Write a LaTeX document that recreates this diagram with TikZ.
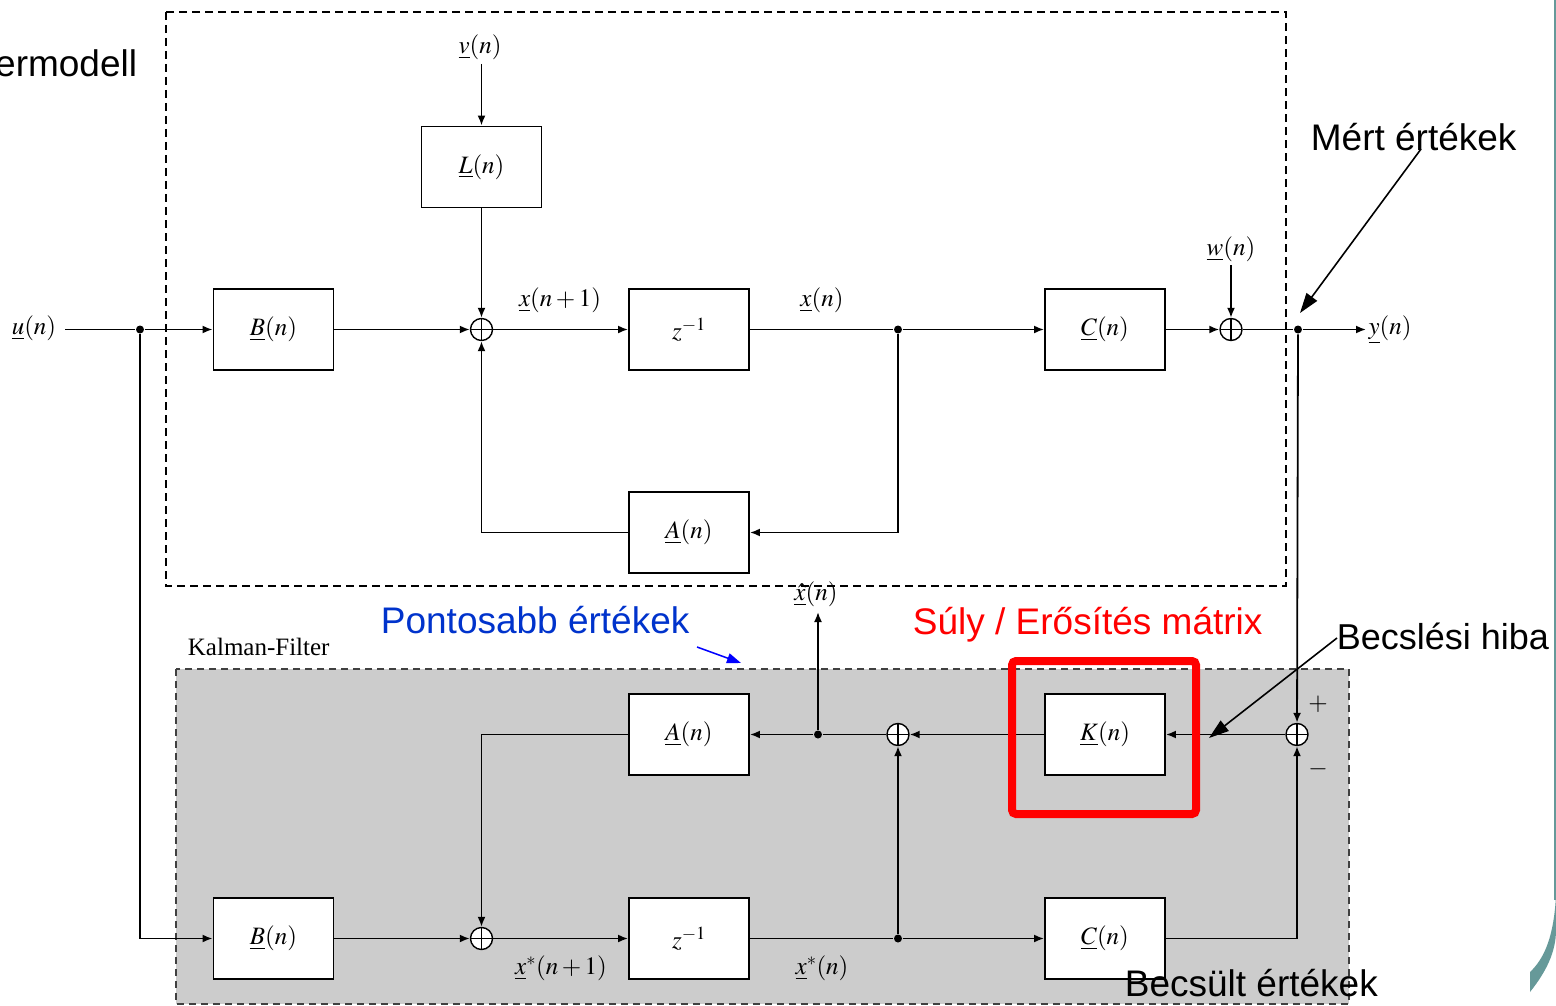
\documentclass[tikz,border=0pt]{standalone}
\usepackage{mathptmx}
\usepackage{fontspec}
\newfontfamily\arial{Liberation Sans}
\newfontfamily\tnr{Liberation Serif}
\usetikzlibrary{arrows.meta}
\definecolor{tealedge}{RGB}{102,153,153}
\definecolor{kgray}{RGB}{204,204,204}
\definecolor{pblue}{RGB}{0,51,204}
\begin{document}
\begin{tikzpicture}[x=1pt,y=-1pt,line width=1.8pt,
  >={Latex[length=10pt,width=8pt]},
  blk/.style={draw,fill=white,line width=1.9pt,minimum width=120pt,minimum height=81pt,inner sep=0pt,font=\fontsize{25}{30}\selectfont},
  sumn/.style={circle,draw,fill=white,line width=1.4pt,minimum size=22pt,inner sep=0pt,
    path picture={\draw[line width=1.3pt] (path picture bounding box.north) -- (path picture bounding box.south)
      (path picture bounding box.west) -- (path picture bounding box.east);}},
  dotn/.style={circle,fill=black,minimum size=8pt,inner sep=0pt},
  lbl/.style={inner sep=0pt,font=\fontsize{25}{30}\selectfont},
  ann/.style={inner sep=0pt,font=\arial\fontsize{37}{44}\selectfont},
  annarrow/.style={line width=1.6pt,-{Triangle[length=20pt,width=13pt]}}
]
\useasboundingbox (0,0) rectangle (1556,1006);
\clip (0,0) rectangle (1556,1006);
\fill[white] (0,0) rectangle (1556,1006);

% frames
\fill[kgray] (176,669) rectangle (1349,1004);
\draw[black!75,line width=1.6pt,dash pattern=on 7pt off 5pt] (176,669) rectangle (1349,1004);
\draw[line width=2.2pt,dash pattern=on 8pt off 5pt] (166,12) rectangle (1286,586);

% right-edge decoration
\draw[tealedge,line width=2pt] (1554.5,0) -- (1554.5,900);
\fill[tealedge] (1556,895) .. controls (1554,935) and (1545,958) .. (1530,972)
  -- (1530,992) .. controls (1546,972) and (1556,952) .. (1556,930) -- cycle;

% blocks (system model)
\node[blk] (L) at (481.5,167) {$\underline{L}(n)$};
\node[blk] (B1) at (273.5,329.5) {$\underline{B}(n)$};
\node[blk] (Z1) at (689,329.5) {$z^{-1}$};
\node[blk] (C1) at (1105,329.5) {$\underline{C}(n)$};
\node[blk] (A1) at (689,532.5) {$\underline{A}(n)$};
\node[sumn] (S1) at (481.5,329.5) {};
\node[sumn] (S2) at (1231,329.5) {};
\node[dotn] (D1) at (140,329.5) {};
\node[dotn] (D2) at (898,329.5) {};
\node[dotn] (D3) at (1298,329.5) {};

% blocks (Kalman filter)
\node[blk] (A2) at (689,734.5) {$\underline{A}(n)$};
\node[blk] (K) at (1105,734.5) {$\underline{K}(n)$};
\node[blk] (B2) at (273.5,938.5) {$\underline{B}(n)$};
\node[blk] (Z2) at (689,938.5) {$z^{-1}$};
\node[blk] (C2) at (1105,938.5) {$\underline{C}(n)$};
\node[sumn] (S3) at (481.5,938.5) {};
\node[sumn] (S4) at (898,734.5) {};
\node[sumn] (S5) at (1297,734.5) {};
\node[dotn] (D4) at (818,734.5) {};
\node[dotn] (D5) at (898,938.5) {};

% signal labels
\node[lbl] (u) at (34,328) {$\underline{u}(n)$};
\node[lbl] (v) at (480,47) {$\underline{v}(n)$};
\node[lbl] (w) at (1231,249) {$\underline{w}(n)$};
\node[lbl] (y) at (1390,330) {$\underline{y}(n)$};
\node[lbl] (xn1) at (560,300) {$\underline{x}(n+1)$};
\node[lbl] (xn) at (822,300) {$\underline{x}(n)$};
\node[lbl] (xh) at (816,594) {$\underline{\hat{x}}(n)$};
\node[lbl] (xs1) at (561,968) {$\underline{x}^{*}(n+1)$};
\node[lbl] (xs) at (822,968) {$\underline{x}^{*}(n)$};
\node[lbl] (plus) at (1318,704) {$+$};
\node[lbl] (minus) at (1318,769) {$-$};

\coordinate (uend) at (65,329.5);
\coordinate (vend) at (481.5,64);
\coordinate (wend) at (1231,265);
\coordinate (yend) at (1366,329.5);
\coordinate (xhend) at (818,612);

% connectors system model
\draw (uend) -- (D1);
\draw[->] (D1) -- (B1);
\draw[->] (B1) -- (S1);
\draw[->] (vend) -- (L);
\draw[->] (L) -- (S1);
\draw[->] (S1) -- (Z1);
\draw (Z1) -- (D2);
\draw[->] (D2) -- (C1);
\draw[->] (C1) -- (S2);
\draw[->] (wend) -- (S2);
\draw (S2) -- (D3);
\draw[->] (D3) -- (yend);
\draw[->] (D2) |- (A1);
\draw[->] (A1) -| (S1);

% connectors Kalman filter
\draw[->] (D1) |- (B2);
\draw[->] (B2) -- (S3);
\draw[->] (S3) -- (Z2);
\draw (Z2) -- (D5);
\draw[->] (D5) -- (C2);
\draw[->] (C2) -| (S5);
\draw[->] (D3) -- (S5);
\draw[->] (S5) -- (K);
\draw[->] (K) -- (S4);
\draw (S4) -- (D4);
\draw[->] (D4) -- (A2);
\draw[->] (A2) -| (S3);
\draw[->] (D5) -- (S4);
\draw[->] (D4) -- (xhend);

% highlight
\draw[red,line width=8pt,rounded corners=4pt] (1012,661) rectangle (1196,814);

% annotations
\node[ann,anchor=base east] (ermodell) at (138,77) {ermodell};
\node[ann,anchor=base west] (mert) at (1310,150) {Mért értékek};
\node[ann,anchor=base west,font=\arial\fontsize{36}{44}\selectfont] (becsl) at (1336,649) {Becslési hiba};
\node[ann,anchor=base west,text=pblue] (pont) at (380,633) {Pontosabb értékek};
\node[ann,anchor=base west,text=red] (suly) at (912,634) {Súly / Erősítés mátrix};
\node[ann,anchor=base west] (becsult) at (1124,996) {Becsült értékek};
\node[inner sep=0pt,anchor=base west,font=\tnr\fontsize{25}{30}\selectfont] (kf) at (187,655) {Kalman-Filter};

\coordinate (m1) at (1421,149);
\coordinate (m2) at (1300,313);
\coordinate (b1) at (1337,638);
\coordinate (b2) at (1209,738);
\coordinate (p1) at (697,647);
\coordinate (p2) at (741,663);
\draw[annarrow] (m1) -- (m2);
\draw[annarrow] (b1) -- (b2);
\draw[blue,line width=1.5pt,-{Triangle[length=14pt,width=10pt]}] (p1) -- (p2);
\end{tikzpicture}
\end{document}
